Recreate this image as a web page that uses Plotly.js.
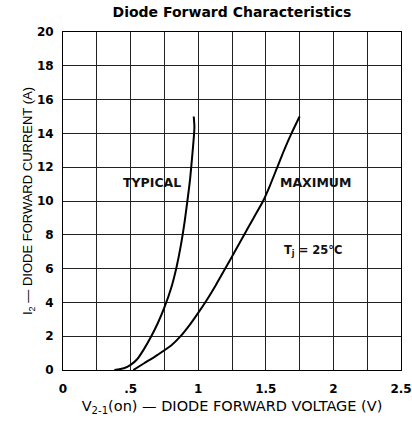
<!DOCTYPE html>
<html>
<head>
<meta charset="utf-8">
<script src="https://cdn.plot.ly/plotly-3.0.1.min.js"></script>
<style>html,body{margin:0;padding:0;background:#fff;}#chart{width:412px;height:424px;}</style>
</head>
<body>
<div id="chart"></div>
<script>
// Typical curve (V, A)
const typicalV = [0.38, 0.45, 0.50, 0.55, 0.60, 0.65, 0.70, 0.75, 0.80, 0.84, 0.87, 0.90, 0.92, 0.94, 0.955, 0.968, 0.972, 0.967];
const typicalI = [0.0, 0.1, 0.3, 0.65, 1.25, 1.95, 2.75, 3.7, 4.85, 6.1, 7.3, 8.8, 10.0, 11.3, 12.6, 13.8, 14.4, 15.0];
// Maximum curve (V, A)
const maximumV = [0.52, 0.60, 0.70, 0.80, 0.87, 0.94, 1.00, 1.06, 1.13, 1.20, 1.27, 1.34, 1.41, 1.48, 1.53, 1.58, 1.635, 1.69, 1.75];
const maximumI = [0.0, 0.4, 0.9, 1.45, 2.0, 2.7, 3.38, 4.1, 5.02, 6.0, 7.0, 8.0, 9.0, 10.0, 10.9, 11.9, 13.0, 14.0, 15.0];
// Tick labels
const xTickVals = [0, 0.5, 1, 1.5, 2, 2.5];
const xTickText = ['0', '.5', '1', '1.5', '2', '2.5'];
const yTickVals = [0, 2, 4, 6, 8, 10, 12, 14, 16, 18, 20];
const yTickText = ['0', '2', '4', '6', '8', '10', '12', '14', '16', '18', '20'];
// Annotations
const labelText = ['TYPICAL', 'MAXIMUM', 'T<sub>j</sub> = 25°C'];
const labelX = [0.66, 1.865, 1.85];
const labelY = [11.1, 11.1, 7.1];

const SANS = 'Liberation Sans, Arial, sans-serif';
const WIDE = 'DejaVu Sans, sans-serif';
const traces = [
  {x: typicalV, y: typicalI, mode: 'lines', line: {color: '#000', width: 2, shape: 'spline', smoothing: 0.6}, hoverinfo: 'skip'},
  {x: maximumV, y: maximumI, mode: 'lines', line: {color: '#000', width: 2, shape: 'spline', smoothing: 0.6}, hoverinfo: 'skip'}
];
const labelSize = [12.5, 12.5, 11.5];
const annotations = labelText.map((t, i) => ({
  x: labelX[i], y: labelY[i], text: t, showarrow: false,
  font: {family: WIDE, size: labelSize[i], weight: 'bold', color: '#111'}
}));
const layout = {
  width: 412, height: 424,
  margin: {l: 63, r: 11, t: 32, b: 54},
  paper_bgcolor: '#fff', plot_bgcolor: '#fff',
  showlegend: false,
  title: {text: 'Diode Forward Characteristics', x: 0.563, xanchor: 'center', y: 0.972, yanchor: 'middle',
          font: {family: WIDE, size: 14, weight: 'bold', color: '#000'}},
  xaxis: {
    range: [0, 2.5], tickvals: xTickVals, ticktext: xTickText, ticks: '', ticklabelstandoff: 8,
    showgrid: true, gridcolor: '#222', gridwidth: 1,
    minor: {dtick: 0.25, showgrid: true, gridcolor: '#222', gridwidth: 1},
    zeroline: false, showline: true, linecolor: '#000', linewidth: 1, mirror: true,
    tickfont: {family: WIDE, size: 12, weight: 'bold', color: '#000'},
    title: {text: 'V<sub>2-1</sub>(on) — DIODE FORWARD VOLTAGE (V)', standoff: 5,
            font: {family: WIDE, size: 14.5, color: '#000'}}
  },
  yaxis: {
    range: [0, 20], tickvals: yTickVals, ticktext: yTickText, ticks: '', ticklabelstandoff: 6,
    showgrid: true, gridcolor: '#222', gridwidth: 1,
    zeroline: false, showline: true, linecolor: '#000', linewidth: 1, mirror: true,
    tickfont: {family: WIDE, size: 12, weight: 'bold', color: '#000'},
    title: {text: 'I<sub>2</sub> — DIODE FORWARD CURRENT (A)', standoff: 0,
            font: {family: SANS, size: 13, color: '#000'}}
  },
  annotations: annotations
};
Plotly.newPlot('chart', traces, layout, {staticPlot: true, displayModeBar: false});
</script>
</body>
</html>
